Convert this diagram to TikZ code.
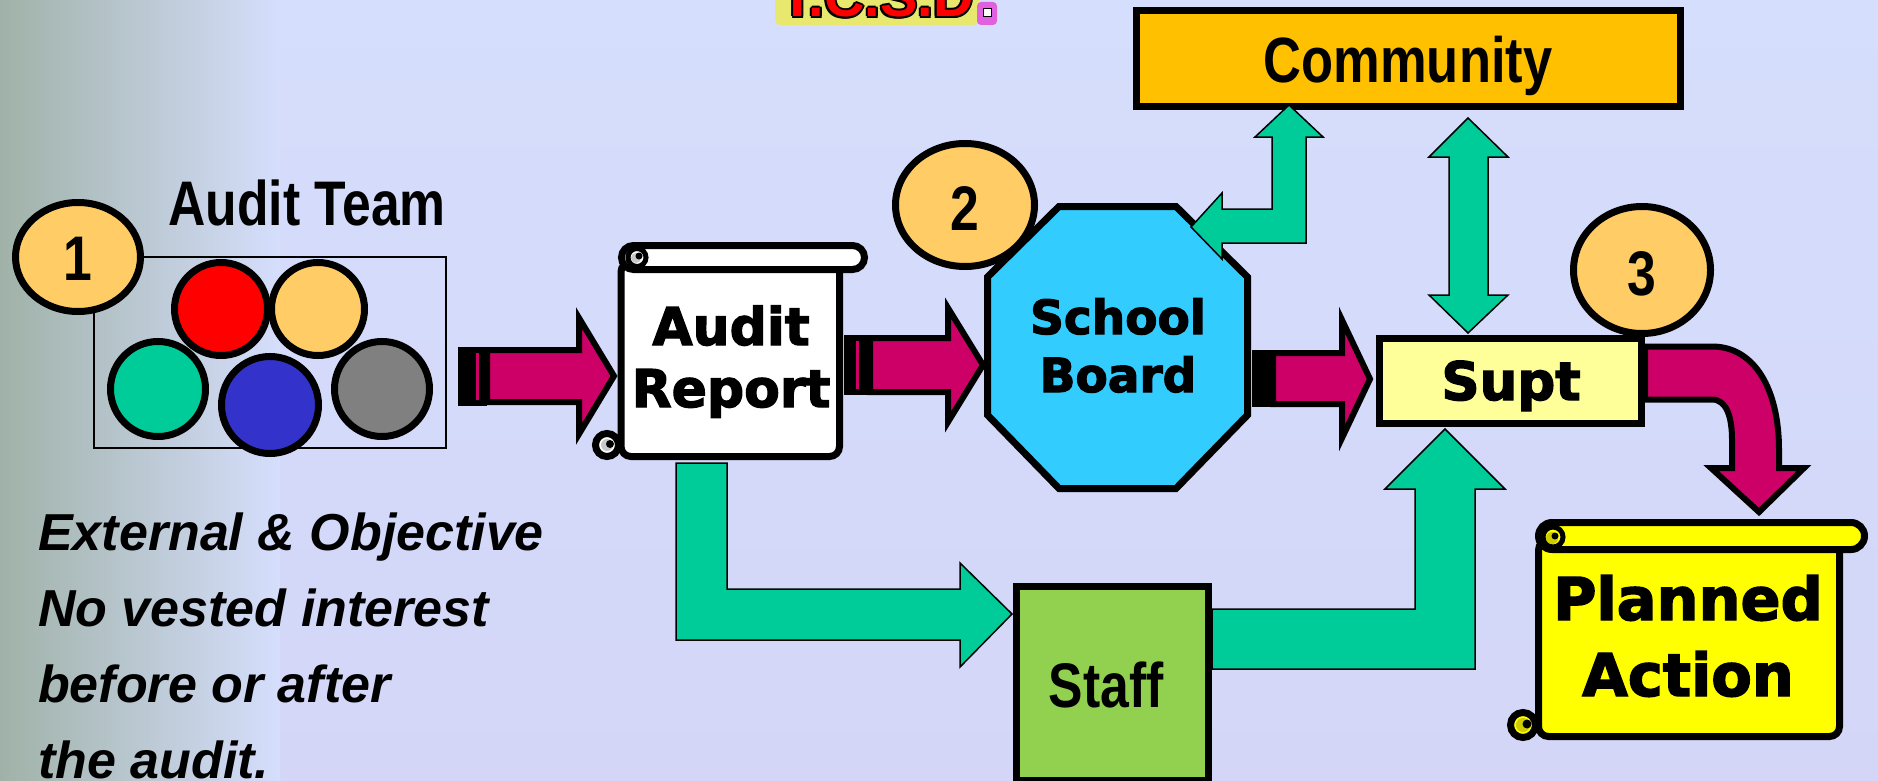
\documentclass[tikz,border=0pt]{standalone}
\usepackage{fontspec}
\setmainfont{Liberation Sans}
\newfontfamily\heavy{DejaVu Sans Bold}[FakeBold=2.5]
\newfontfamily\narrow{Liberation Sans}[FakeStretch=0.82]
\usetikzlibrary{shapes.geometric}
\definecolor{bgc}{RGB}{213,222,252}
\definecolor{bgb}{RGB}{212,214,247}
\definecolor{bgl}{RGB}{160,178,168}
\definecolor{tmag}{RGB}{204,0,102}
\definecolor{tgreen}{RGB}{0,204,153}
\definecolor{tgold}{RGB}{255,204,102}
\definecolor{tcomm}{RGB}{255,192,0}
\definecolor{tsky}{RGB}{51,204,255}
\definecolor{tsupt}{RGB}{255,255,153}
\definecolor{tstaff}{RGB}{146,208,80}
\definecolor{tyel}{RGB}{255,255,0}
\definecolor{tolive}{RGB}{204,204,0}
\definecolor{tcurl}{RGB}{200,200,200}
\definecolor{tred}{RGB}{255,0,0}
\definecolor{tblue}{RGB}{51,51,204}
\definecolor{tgray}{RGB}{128,128,128}
\definecolor{tglow}{RGB}{232,232,110}
\definecolor{tpink}{RGB}{224,96,224}
\newcommand\fnarrow[1]{\narrow\bfseries\fontsize{#1pt}{#1pt}\selectfont}
\newcommand\fheavy[1]{\heavy\fontsize{#1pt}{#1pt}\selectfont}
\newcommand\fital[1]{\bfseries\itshape\fontsize{#1pt}{#1pt}\selectfont}
\begin{document}
\begin{tikzpicture}[x=1pt,y=-1pt,
  thickline/.style={draw=black,line width=7pt,line join=miter},
  greenarrow/.style={draw=black,line width=1.5pt,fill=tgreen,line join=miter},
  magarrow/.style={draw=black,line width=6pt,fill=tmag,line join=miter},
  numell/.style={ellipse,draw=black,line width=7pt,fill=tgold,inner sep=0pt},
  ball/.style={circle,draw=black,line width=7pt,inner sep=0pt},
  lbl/.style={anchor=base,inner sep=0pt},
  ital/.style={anchor=base west,inner sep=0pt,font=\fital{52}}]
\useasboundingbox (0,0) rectangle (1878,781);
% background
\shade[top color=bgc,bottom color=bgb] (0,0) rectangle (1878,781);
\shade[left color=bgl,right color=bgc] (0,0) rectangle (280,781);

% title
\fill[tglow,rounded corners=6pt] (775,-10) rectangle (979,25);
\fill[tpink,rounded corners=4pt] (977,2) rectangle (997,25);
\draw[black,line width=1.5pt,fill=white] (983.5,8.5) rectangle (991.5,16.5);
\foreach \dx/\dy in {-2/0,2/0,0/-2,0/2,-1.5/-1.5,1.5/1.5,-1.5/1.5,1.5/-1.5}
  \node[lbl,font=\bfseries\fontsize{56pt}{56pt}\selectfont,text=black] at (877+\dx,17+\dy) {T.C.S.D};
\node[lbl,font=\bfseries\fontsize{56pt}{56pt}\selectfont,text=tred] (title) at (877,17) {T.C.S.D};

% audit team
\node[draw=black,line width=1.5pt,minimum width=352pt,minimum height=191pt,inner sep=0pt] (team) at (270,352.5) {};
\node[ball,fill=tred,minimum size=93pt] (b1) at (221,309) {};
\node[ball,fill=tgold,minimum size=93pt] (b2) at (318,309) {};
\node[ball,fill=tgreen,minimum size=95pt] (b3) at (158,389) {};
\node[ball,fill=tblue,minimum size=97pt] (b4) at (270,405) {};
\node[ball,fill=tgray,minimum size=95pt] (b5) at (382,389) {};
\node[numell,minimum width=125pt,minimum height=109pt] (n1) at (78,257) {};
\node[lbl,font=\fnarrow{63}] at (78,280) {1};
\node[lbl,font=\fnarrow{63}] (teamlbl) at (307,225) {Audit Team};

% italic text
\node[ital] (t1) at (38,550) {External \& Objective};
\node[ital] (t2) at (38,626) {No vested interest};
\node[ital] (t3) at (38,702) {before or after};
\node[ital] (t4) at (38,778) {the audit.};

% audit report scroll
\draw[thickline,fill=white,rounded corners=10pt] (621,262) rectangle (839.5,456.5);
\draw[thickline,fill=white,rounded corners=12pt] (621.5,245.5) rectangle (864.5,269.5);
\draw[line width=5pt,fill=white] (637,257.5) circle (9pt);
\fill[tcurl] (636,258) circle (5pt);
\fill[black] (639,256) circle (3.5pt);
\draw[thickline,fill=white] (607,445) circle (11.5pt);
\fill[tcurl] (607,445) circle (6pt);
\fill[black] (610,444) circle (4pt);
\node[lbl,font=\fheavy{52}] (report) at (731,345) {Audit};
\node[lbl,font=\fheavy{52}] at (731,407) {Report};

% school board
\draw[thickline,fill=tsky] (1059,206.5) -- (1176,206.5) -- (1247.5,277) -- (1247.5,415) -- (1176,488.5) -- (1059,488.5) -- (987.5,415) -- (987.5,277) -- cycle;
\node[lbl,font=\fheavy{47}] (board) at (1118,334) {School};
\node[lbl,font=\fheavy{47}] at (1118,392) {Board};

% community
\node[thickline,fill=tcomm,minimum width=544pt,minimum height=96pt,inner sep=0pt] (comm) at (1408.5,58.5) {};
\node[lbl,font=\fnarrow{64}] at (1408,83) {Community};

% supt
\node[thickline,fill=tsupt,minimum width=262pt,minimum height=85pt,inner sep=0pt] (supt) at (1510.5,381) {};
\node[lbl,font=\fheavy{53}] at (1511,400) {Supt};

% staff
\node[thickline,fill=tstaff,minimum width=192pt,minimum height=194pt,inner sep=0pt] (staff) at (1112.5,683.5) {};
\node[lbl,font=\fnarrow{63}] at (1106,707) {Staff};

% planned action scroll
\draw[thickline,fill=tyel,rounded corners=10pt] (1538.5,540) rectangle (1839.5,736.5);
\draw[thickline,fill=tyel,rounded corners=13.5pt] (1538.5,522.5) rectangle (1864.5,549.5);
\draw[line width=5pt,fill=tyel] (1553,537) circle (10pt);
\fill[tolive] (1552,538) circle (6pt);
\fill[black] (1555,536) circle (3.5pt);
\draw[thickline,fill=tyel] (1523,725) circle (12.5pt);
\fill[tolive] (1523,725) circle (7pt);
\fill[black] (1527,724) circle (4.5pt);
\node[lbl,font=\fheavy{59}] (plan) at (1688,620) {Planned};
\node[lbl,font=\fheavy{59}] at (1688,696) {Action};

% green arrows
\draw[greenarrow] (676,463) -- (727,463) -- (727,589) -- (960,589) -- (960,563) -- (1012,614) -- (960,667) -- (960,640) -- (676,640) -- cycle;
\draw[greenarrow] (1212,609) -- (1415,609) -- (1415,489) -- (1385,489) -- (1445,429) -- (1505,489) -- (1475,489) -- (1475,669) -- (1212,669) -- cycle;
\draw[greenarrow] (1289,105) -- (1323,137) -- (1306,137) -- (1306,243) -- (1222,243) -- (1222,259) -- (1191,227) -- (1222,193) -- (1222,209) -- (1272,209) -- (1272,137) -- (1255,137) -- cycle;
\draw[greenarrow] (1468,118) -- (1508,157) -- (1488,157) -- (1488,295) -- (1508,295) -- (1468,333) -- (1429,295) -- (1449,295) -- (1449,157) -- (1429,157) -- cycle;

% magenta arrows
\fill[black] (458,347) rectangle (487,406);
\fill[tmag] (476,353) rectangle (479,400);
\draw[magarrow] (487,350) -- (579,350) -- (579,318) -- (614,376) -- (579,434) -- (579,402) -- (487,402) -- cycle;
\fill[black] (844,335) rectangle (870,395);
\fill[tmag] (856,341) rectangle (859,389);
\draw[magarrow] (870,338) -- (948,338) -- (948,308) -- (983,365) -- (948,422) -- (948,392) -- (870,392) -- cycle;
\fill[black] (1252,350) rectangle (1273,407);
\draw[magarrow] (1273,353) -- (1342,353) -- (1342,320) -- (1370,379) -- (1342,438) -- (1342,404) -- (1273,404) -- cycle;
\draw[magarrow] (1645,346.5) -- (1712,346.5) .. controls (1755,346.5) and (1779,390) .. (1779,450) -- (1779,468) -- (1804,468) -- (1759,512) -- (1711,468) -- (1732,468) -- (1732,440) .. controls (1732,418) and (1727,399.5) .. (1712,399.5) -- (1645,399.5) -- cycle;

% number ellipses 2 and 3
\node[numell,minimum width=139pt,minimum height=123pt] (n2) at (965,205) {};
\node[lbl,font=\fnarrow{63}] at (965,230) {2};
\node[numell,minimum width=137pt,minimum height=127pt] (n3) at (1642,270) {};
\node[lbl,font=\fnarrow{63}] at (1642,295) {3};
\end{tikzpicture}
\end{document}
